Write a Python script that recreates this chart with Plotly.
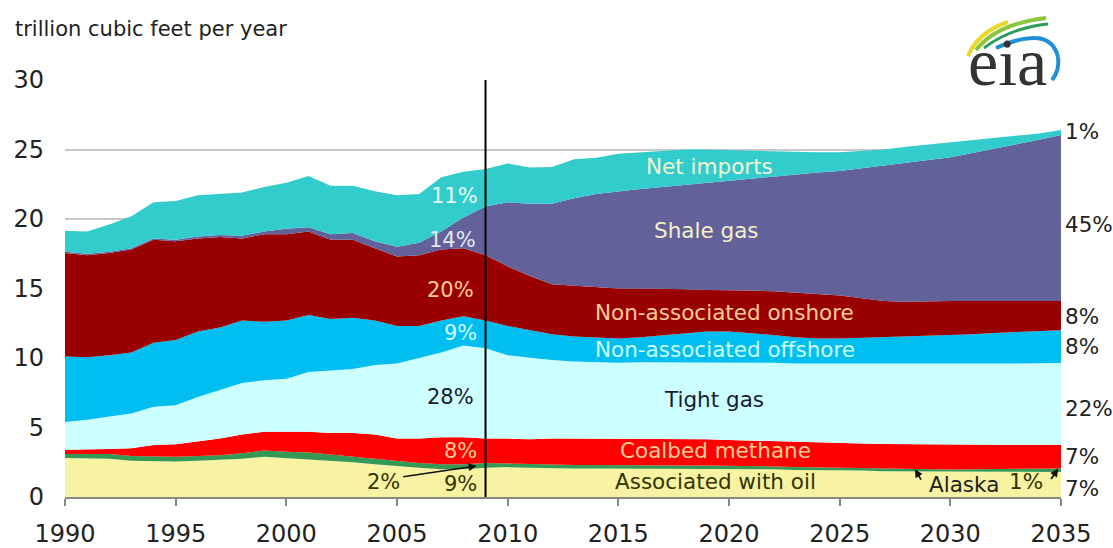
import plotly.graph_objects as go

years = list(range(1990, 2036))

assoc_oil = [2.8, 2.8, 2.75, 2.6, 2.55, 2.55, 2.6, 2.65, 2.75, 2.9, 2.8, 2.75, 2.6, 2.5, 2.35, 2.2, 2.1, 2.0, 2.0, 2.1,
             2.15, 2.1, 2.05, 2.05, 2.05, 2.05, 2.05, 2.05, 2.05, 2.05, 2.05, 2.0, 2.0, 1.95, 1.95, 1.9, 1.9, 1.85, 1.85, 1.8, 1.8, 1.8, 1.8, 1.8, 1.8, 1.8]
alaska = [0.3, 0.3, 0.35, 0.35, 0.35, 0.35, 0.35, 0.35, 0.4, 0.45, 0.45, 0.45, 0.45, 0.4, 0.4, 0.35, 0.35, 0.35, 0.35, 0.35,
          0.25, 0.25, 0.25, 0.25, 0.25, 0.23, 0.23, 0.23, 0.22, 0.22, 0.21, 0.22, 0.2, 0.2, 0.17, 0.2, 0.18, 0.2, 0.18, 0.2, 0.18, 0.2, 0.2, 0.22, 0.24, 0.25]
coalbed = [0.3, 0.3, 0.35, 0.55, 0.85, 0.9, 1.05, 1.2, 1.35, 1.35, 1.45, 1.5, 1.55, 1.7, 1.75, 1.65, 1.75, 1.95, 1.95, 1.75,
           1.8, 1.8, 1.9, 1.9, 1.9, 1.92, 1.92, 1.92, 1.88, 1.88, 1.84, 1.83, 1.8, 1.8, 1.8, 1.8, 1.77, 1.77, 1.77, 1.78, 1.78, 1.76, 1.76, 1.74, 1.72, 1.71]
tight = [2.0, 2.15, 2.35, 2.5, 2.75, 2.8, 3.2, 3.5, 3.7, 3.7, 3.8, 4.3, 4.5, 4.6, 5.0, 5.4, 5.8, 6.1, 6.6, 6.5,
         6.0, 5.85, 5.65, 5.55, 5.5, 5.45, 5.5, 5.5, 5.55, 5.55, 5.6, 5.6, 5.65, 5.65, 5.68, 5.7, 5.75, 5.76, 5.76, 5.77, 5.79, 5.8, 5.82, 5.84, 5.86, 5.88]
offshore = [4.7, 4.5, 4.4, 4.4, 4.6, 4.7, 4.7, 4.5, 4.5, 4.2, 4.2, 4.1, 3.7, 3.7, 3.2, 2.7, 2.3, 2.3, 2.1, 2.0,
            2.1, 2.0, 1.85, 1.8, 1.75, 1.75, 1.8, 1.95, 2.1, 2.2, 2.2, 2.15, 2.0, 1.9, 1.8, 1.8, 1.85, 1.92, 1.99, 2.05, 2.05, 2.14, 2.22, 2.25, 2.28, 2.36]
onshore = [7.45, 7.35, 7.35, 7.4, 7.4, 7.1, 6.7, 6.5, 5.9, 6.3, 6.2, 6.0, 5.7, 5.6, 5.2, 5.0, 5.1, 5.1, 4.9, 4.7,
           4.3, 3.9, 3.6, 3.65, 3.65, 3.6, 3.5, 3.35, 3.15, 3.0, 3.0, 3.05, 3.15, 3.2, 3.2, 3.1, 2.85, 2.6, 2.5, 2.5, 2.5, 2.4, 2.3, 2.25, 2.2, 2.1]
shale = [0.1, 0.1, 0.1, 0.1, 0.1, 0.1, 0.15, 0.15, 0.2, 0.2, 0.4, 0.3, 0.4, 0.5, 0.5, 0.7, 0.9, 1.3, 2.2, 3.5,
         4.6, 5.2, 5.8, 6.3, 6.7, 7.0, 7.15, 7.3, 7.5, 7.7, 7.9, 8.1, 8.3, 8.55, 8.75, 8.95, 9.35, 9.75, 10.05, 10.2, 10.35, 10.65, 10.95, 11.25, 11.6, 11.95]
net_imports = [1.5, 1.6, 1.95, 2.3, 2.6, 2.8, 2.95, 2.95, 3.1, 3.2, 3.3, 3.7, 3.5, 3.4, 3.6, 3.7, 3.5, 3.9, 3.3, 2.7,
               2.8, 2.6, 2.65, 2.8, 2.6, 2.7, 2.65, 2.6, 2.55, 2.4, 2.15, 1.95, 1.75, 1.55, 1.45, 1.35, 1.25, 1.15, 1.1, 1.05, 1.05, 0.95, 0.8, 0.65, 0.45, 0.35]

x_ticks = [1990, 1995, 2000, 2005, 2010, 2015, 2020, 2025, 2030, 2035]
y_ticks = [0, 5, 10, 15, 20, 25, 30]

series = [
    ("Associated with oil", assoc_oil, "#f7f3a3"),
    ("Alaska", alaska, "#339955"),
    ("Coalbed methane", coalbed, "#ff0000"),
    ("Tight gas", tight, "#ccffff"),
    ("Non-associated offshore", offshore, "#00bff0"),
    ("Non-associated onshore", onshore, "#990000"),
    ("Shale gas", shale, "#626199"),
    ("Net imports", net_imports, "#33cccc"),
]

FONT = "DejaVu Sans"
fig = go.Figure()
for name, vals, col in series:
    fig.add_trace(go.Scatter(x=years, y=vals, name=name, mode="lines", stackgroup="one",
                             line=dict(width=0, color=col), fillcolor=col))

W, H = 1113, 548
ML, MR, MT, MB = 65, 52, 80, 51
PW, PH = W - ML - MR, H - MT - MB


def px(x, y):
    return (x - ML) / PW, (H - MB - y) / PH


ann = []


def label(text, x, y, color, size=21.5, xref="x", yref="y", xanchor="center", family=FONT):
    ann.append(dict(text=text, x=x, y=y, xref=xref, yref=yref, showarrow=False,
                    xanchor=xanchor, yanchor="middle", font=dict(family=family, size=size, color=color)))


# inside labels
label("Net imports", 2019.1, 23.8, "#f4f6d0")
label("Shale gas", 2019.0, 19.2, "#f4f0c8")
label("Non-associated onshore", 2019.8, 13.3, "#ffcc99")
label("Non-associated offshore", 2019.8, 10.58, "#ccffff")
label("Tight gas", 2019.3, 6.98, "#1a1a33")
label("Coalbed methane", 2019.4, 3.31, "#ffcc99")
label("Associated with oil", 2019.4, 1.15, "#333300")
label("Alaska", 2030.6, 0.88, "#222222")
label("1%", 2033.4, 1.1, "#333300")
# history percents
label("11%", 2007.6, 21.65, "#e6f6f2", size=21)
label("14%", 2007.5, 18.5, "#e6e6f2", size=21)
label("20%", 2007.4, 14.86, "#ffcc99", size=21)
label("9%", 2007.85, 11.8, "#ccffff", size=21)
label("28%", 2007.4, 7.19, "#1a1a2e", size=21)
label("8%", 2007.85, 3.31, "#ffcc99", size=21)
label("9%", 2007.85, 0.94, "#333300", size=21)
label("2%", 2004.4, 1.08, "#333300", size=21)
# right side shares 2035
for t, v in [("1%", 26.27), ("45%", 19.64), ("8%", 12.99), ("8%", 10.86), ("22%", 6.4), ("7%", 2.9), ("7%", 0.6)]:
    label(t, 1.002, v, "#222222", xref="paper", xanchor="left")
# headers
label("History", 2000.75, 31.3, "#222222")
label("Projections", 2023.7, 31.4, "#222222")
label("2009", 2009.05, 30.8, "#111111")
tx, ty = px(13, 29)
label("trillion cubic feet per year", tx, ty, "#222222", size=21, xref="paper", yref="paper", xanchor="left")

# arrows
for hx, hy, ax, ay in [(2008.6, 2.23, -75, 11), (2028.4, 2.0, 7, 12), (2034.87, 2.05, -8, 12)]:
    ann.append(dict(x=hx, y=hy, xref="x", yref="y", text="", showarrow=True, ax=ax, ay=ay,
                    arrowhead=2, arrowsize=1, arrowwidth=1.6, arrowcolor="#111111"))

# eia logo text
lx, ly = px(1007, 62)
label("eia", lx, ly, "#333333", size=68, xref="paper", yref="paper", family="Liberation Serif")

shapes = []
# white box hiding gridline behind the logo
x0, y0 = px(955, 0)
x1, y1 = px(1113, 88)
shapes.append(dict(type="rect", xref="paper", yref="paper", x0=x0, x1=x1, y0=y1, y1=y0,
                   fillcolor="white", line=dict(width=0), layer="above"))


def qpath(pts):
    (a, b), (c, d), (e, f) = [px(*p) for p in pts]
    return f"M {a} {b} Q {c} {d} {e} {f}"


for pts, col, w in [
    (((968, 56), (978, 32), (1008, 22)), "#e6d92a", 4),
    (((976, 50), (996, 24), (1046, 18)), "#8cc63f", 4),
    (((984, 48), (1010, 28), (1048, 24)), "#2e9d5a", 3),
    (((996, 48), (1050, 24), (1058, 57)), "#1f8fd6", 4),
    (((1058, 57), (1060, 70), (1052, 80)), "#1f8fd6", 4),
]:
    shapes.append(dict(type="path", xref="paper", yref="paper", path=qpath(pts),
                       line=dict(color=col, width=w), layer="above"))

# 2009 divider
shapes.append(dict(type="line", xref="x", yref="y", x0=2009, x1=2009, y0=0, y1=30,
                   line=dict(color="#000000", width=2), layer="above"))

fig.update_layout(
    width=W, height=H, margin=dict(l=ML, r=MR, t=MT, b=MB, pad=0, autoexpand=False),
    paper_bgcolor="white", plot_bgcolor="white", showlegend=False,
    annotations=ann, shapes=shapes,
    xaxis=dict(range=[1990, 2035], tickvals=x_ticks, ticks="outside", ticklen=7, tickwidth=1.5,
               tickcolor="#888888", showline=True, linecolor="#888888", linewidth=1.5,
               showgrid=False, zeroline=False, ticklabelstandoff=7, automargin=False,
               tickfont=dict(family=FONT, size=24, color="#222222")),
    yaxis=dict(range=[0, 30], tickvals=y_ticks, showgrid=True, gridcolor="#c8c8c8", gridwidth=1.5,
               showline=False, zeroline=False, ticks="", ticklabelstandoff=20, automargin=False,
               tickfont=dict(family=FONT, size=24, color="#222222")),
)

fig.write_html("out.html")
